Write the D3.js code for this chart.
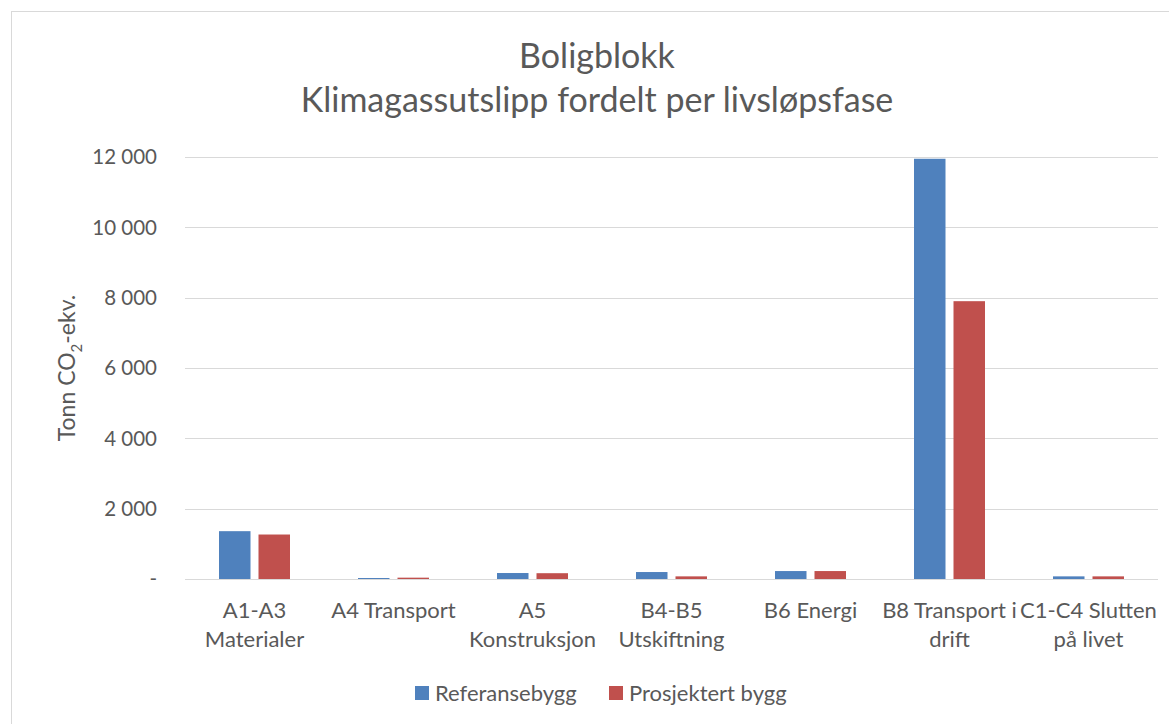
<!DOCTYPE html>
<html>
<head>
<meta charset="utf-8">
<title>Boligblokk</title>
<script src="https://d3js.org/d3.v7.min.js"></script>
<style>
  body { margin: 0; background: #fff; }
  text { font-family: Lato, "Open Sans", sans-serif; fill: #595959; }
</style>
</head>
<body>
<script>
// data
var categories = [
  ["A1-A3", "Materialer"],
  ["A4 Transport"],
  ["A5", "Konstruksjon"],
  ["B4-B5", "Utskiftning"],
  ["B6 Energi"],
  ["B8 Transport i", "drift"],
  ["C1-C4 Slutten", "på livet"]
];
var seriesNames = ["Referansebygg", "Prosjektert bygg"];
var referanse = [1360, 28, 170, 198, 226, 11950, 75];
var prosjektert = [1265, 38, 165, 75, 226, 7900, 75];
var yTicks = [0, 2000, 4000, 6000, 8000, 10000, 12000];
var colors = ["#4F81BD", "#C0504D"];

var W = 1169, H = 724;
var svg = d3.select("body").append("svg").attr("width", W).attr("height", H);

// chart area border
svg.append("rect")
  .attr("x", 11.5).attr("y", 11.5)
  .attr("width", W + 10).attr("height", H + 10)
  .attr("fill", "#fff").attr("stroke", "#d9d9d9");

var catKeys = categories.map(function(c, i) { return i; });
var x0 = d3.scaleBand().domain(catKeys).range([185, 1158]);
var x1 = d3.scaleBand().domain(seriesNames).range([0, 71]).paddingInner(0.2025);
var y = d3.scaleLinear().domain([0, 12000]).range([579, 157]);

// gridlines
svg.append("g").selectAll("line").data(yTicks).enter().append("line")
  .attr("x1", 185).attr("x2", 1158)
  .attr("y1", function(d) { return Math.round(y(d)) + 0.5; })
  .attr("y2", function(d) { return Math.round(y(d)) + 0.5; })
  .attr("stroke", "#d9d9d9").attr("stroke-width", 1);

// y tick labels
svg.append("g").selectAll("text").data(yTicks).enter().append("text")
  .attr("x", 157).attr("y", function(d) { return y(d); })
  .attr("dy", "0.35em")
  .attr("text-anchor", "end")
  .style("font-size", "20.5px")
  .text(function(d) { return d === 0 ? "-" : d3.format(",")(d).replace(",", " "); });

// bars
var rows = categories.map(function(c, i) {
  return [
    { s: seriesNames[0], v: referanse[i], c: colors[0] },
    { s: seriesNames[1], v: prosjektert[i], c: colors[1] }
  ];
});
var groups = svg.append("g").selectAll("g").data(rows).enter().append("g")
  .attr("transform", function(d, i) { return "translate(" + (x0(i) + (x0.bandwidth() - 71) / 2) + ",0)"; });
groups.selectAll("rect").data(function(d) { return d; }).enter().append("rect")
  .attr("x", function(d) { return x1(d.s); })
  .attr("width", x1.bandwidth())
  .attr("y", function(d) { return y(d.v); })
  .attr("height", function(d) { return y(0) - y(d.v); })
  .attr("fill", function(d) { return d.c; });

// category labels
var cl = svg.append("g").selectAll("text").data(categories).enter().append("text")
  .attr("x", function(d, i) { return x0(i) + x0.bandwidth() / 2; })
  .attr("y", 618)
  .attr("text-anchor", "middle")
  .style("font-size", "22px");
cl.selectAll("tspan").data(function(d) { return d; }).enter().append("tspan")
  .attr("x", function() { return d3.select(this.parentNode).attr("x"); })
  .attr("dy", function(d, i) { return i === 0 ? 0 : 29; })
  .text(function(d) { return d; });

// title
svg.append("text").attr("x", 597).attr("y", 68).attr("text-anchor", "middle")
  .style("font-size", "34px").text("Boligblokk");
svg.append("text").attr("x", 597).attr("y", 112).attr("text-anchor", "middle")
  .style("font-size", "34px").text("Klimagassutslipp fordelt per livsløpsfase");

// y axis title
var yt = svg.append("text")
  .attr("transform", "translate(75,368) rotate(-90)")
  .attr("text-anchor", "middle")
  .style("font-size", "23px");
yt.append("tspan").text("Tonn CO");
yt.append("tspan").attr("dy", 7).style("font-size", "15px").text("2");
yt.append("tspan").attr("dy", -7).text("-ekv.");

// legend
var legX = [415, 609];
var leg = svg.append("g").selectAll("g").data(seriesNames).enter().append("g")
  .attr("transform", function(d, i) { return "translate(" + legX[i] + ",686)"; });
leg.append("rect").attr("width", 14).attr("height", 14)
  .attr("fill", function(d, i) { return colors[i]; });
leg.append("text").attr("x", 20).attr("y", 7).attr("dy", "0.35em")
  .style("font-size", "22px").text(function(d) { return d; });
</script>
</body>
</html>
